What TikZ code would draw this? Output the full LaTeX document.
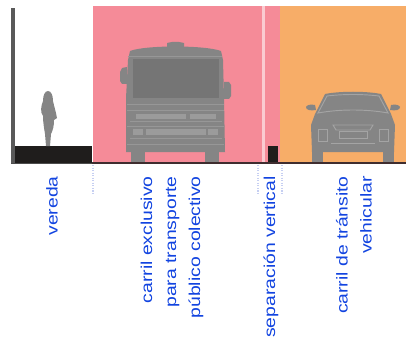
\documentclass[tikz,border=0pt]{standalone}
\usepackage{fontspec}
\setmainfont{Liberation Sans}
\usetikzlibrary{calc}
\definecolor{lane}{HTML}{F58B98}
\definecolor{traffic}{HTML}{F7AD68}
\definecolor{veh}{HTML}{858585}
\definecolor{soil}{HTML}{1F1D1C}
\definecolor{inkblue}{HTML}{1244E0}
\definecolor{leader}{HTML}{C6CFF2}

\begin{document}
\begin{tikzpicture}[x=0.75pt, y=-0.75pt,
    tag/.style = {text=inkblue, font=\fontsize{11.8pt}{18pt}\selectfont, rotate=90, xscale=1.23, anchor=east, align=right, inner sep=0pt},
    tick/.style = {leader, densely dotted, line width=0.9pt},
    vehfill/.style = {fill=veh, draw=none},
    busline/.style = {draw=#1, line width=0.7pt}]
    \useasboundingbox (0,0) rectangle (406,342);

    % lanes
    \fill[lane] (93,6) rectangle (280,162);
    \fill[traffic] (280,6) rectangle (406,162);
    \fill[white!55!lane] (262,6) rectangle (265,162);

    % ground
    \fill[soil] (12,146) rectangle (92,163);
    \fill[soil] (268,146) rectangle (278,163);
    \fill[soil!85!lane] (92,162) rectangle (406,164);
    \fill[black!65] (11,8) rectangle (15,163);
    \fill[black!70] (11,163) rectangle (92,164);

    % person
    \fill[veh] (48,91) .. controls (51,91) and (53,95) .. (53,101) .. controls (54,106) and (56,112) .. (57,118)
        -- (54,120) .. controls (54,126) and (53,130) .. (51,134) -- (50,146) -- (46,146) -- (45,134)
        .. controls (44,128) and (43,122) .. (43,116) .. controls (40,112) and (41,106) .. (43,101)
        .. controls (43,95) and (45,91) .. (48,91) -- cycle;

    % bus
    \fill[vehfill] (167,47) -- (167,43) -- (172,42) -- (179,42) -- (184,43) -- (184,47) -- cycle;
    \fill[vehfill] (127,67) -- (122,68) -- (120,72) -- (120,81) -- (122,84) -- (127,84) -- cycle;
    \fill[vehfill] (224,82) -- (229,82) -- (231,85) -- (231,96) -- (229,99) -- (224,99) -- cycle;
    \fill[vehfill] (130,51) .. controls (145,45) and (205,45) .. (221,51) -- (223,60) -- (224,98)
        -- (225,152) -- (126,152) -- (126,98) -- (128,60) -- cycle;
    \fill[vehfill] (131,152) rectangle (145,162);
    \fill[vehfill] (205,152) rectangle (219,162);
    \fill[veh!88!black] (133,59) -- (219,59) -- (219,98) -- (133,98) -- cycle;
    \draw[busline=veh!85!white] (128,56) -- (222,56);
    \draw[busline=veh!85!white] (127,104) -- (224,104);
    \draw[busline=veh!85!white] (127,110) -- (224,110);
    \draw[busline=veh!85!white] (130,121) -- (222,121);
    \draw[busline=veh!85!white] (127,126) -- (224,126);
    \draw[busline=veh!85!white] (130,138) -- (222,138);
    \draw[busline=veh!85!white] (127,144) -- (224,144);
    \fill[veh!82!white] (136,114) rectangle (186,119);
    \fill[veh!82!white] (146,129) rectangle (206,135);
    \fill[veh!82!white] (133,129) rectangle (143,135);
    \fill[veh!82!white] (208,129) rectangle (218,135);
    \fill[veh!82!white] (190,114) rectangle (216,119);

    % car
    \fill[vehfill] (315,105) .. controls (310,104) and (307,105) .. (306,107) .. controls (306,110) and (310,111) .. (316,110) -- cycle;
    \fill[vehfill] (391,105) .. controls (396,104) and (399,105) .. (400,107) .. controls (400,110) and (396,111) .. (390,110) -- cycle;
    \fill[vehfill] (325,94) .. controls (340,91) and (366,91) .. (381,94) -- (391,114) -- (395,125) -- (394,152)
        -- (312,152) -- (311,125) -- (315,114) -- cycle;
    \fill[vehfill] (312,150) rectangle (323,162);
    \fill[vehfill] (383,150) rectangle (394,162);
    \fill[traffic] (323,153) rectangle (383,162);
    \draw[busline=veh!75!white] (327,96) -- (318,113) .. controls (340,109) and (366,109) .. (388,113) -- (379,96) .. controls (362,94) and (344,94) .. (327,96) -- cycle;
    \draw[busline=veh!75!white] (333,125) -- (373,125) -- (370,130) -- (336,130) -- cycle;
    \draw[busline=veh!75!white] (339,131) rectangle (367,138);
    \draw[busline=veh!75!white] (318,129) rectangle (327,141);
    \draw[busline=veh!75!white] (379,129) rectangle (388,141);
    \draw[busline=veh!75!white] (331,143) -- (375,143);

    % leaders
    \coordinate (t1a) at (93,165);
    \coordinate (t1b) at (93,193);
    \coordinate (t2a) at (258,165);
    \coordinate (t2b) at (258,193);
    \coordinate (t3a) at (282,165);
    \coordinate (t3b) at (282,193);
    \draw[tick] (t1a) -- (t1b);
    \draw[tick] (t2a) -- (t2b);
    \draw[tick] (t3a) -- (t3b);

    \node[tag] (vereda) at (52,176) {vereda};
    \node[tag] (carril1) at (172,176) {carril exclusivo\\para transporte\\público colectivo};
    \node[tag] (sepv) at (271,176) {separación vertical};
    \node[tag] (carril2) at (354,176) {carril de tránsito\\vehicular};
\end{tikzpicture}
\end{document}
